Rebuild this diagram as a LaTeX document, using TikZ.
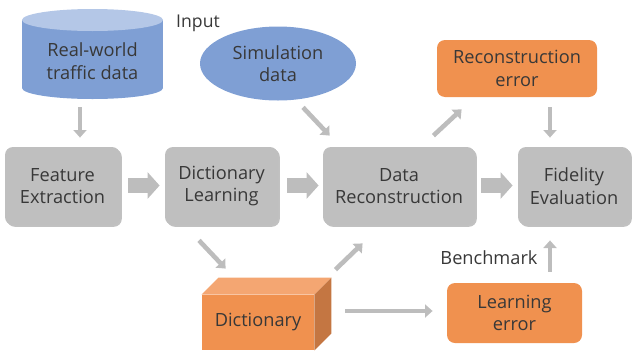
\documentclass[tikz,border=0pt]{standalone}
\usepackage{fontspec}
\setmainfont{Open Sans}
\usetikzlibrary{arrows.meta,shapes.geometric,shadows}
\definecolor{gbox}{HTML}{BFBFBF}
\definecolor{garrow}{HTML}{BDBDBD}
\definecolor{orng}{HTML}{F0914F}
\definecolor{orngtop}{HTML}{F4A672}
\definecolor{orngside}{HTML}{C47642}
\definecolor{blu}{HTML}{7F9FD4}
\definecolor{blutop}{HTML}{B4C7E7}
\definecolor{txt}{HTML}{383838}
\def\PX{0.5pt}
\tikzset{
  proc/.style={fill=gbox, rounded corners=4pt, inner sep=0pt, align=center,
    drop shadow={shadow xshift=0.9pt, shadow yshift=-0.9pt, opacity=0.35, fill=black!70}},
  obox/.style={fill=orng, rounded corners=4pt, inner sep=0pt, align=center},
  tarrow/.style={draw=garrow, line width=2.3pt, -{Triangle[length=3.8pt,width=6.5pt]}},
  barrow/.style={draw=garrow, line width=7.5pt, -{Triangle[length=6pt,width=13pt]}},
  lbl/.style={inner sep=0pt, align=center}
}
\begin{document}
\begin{tikzpicture}[x=0.5pt,y=-0.5pt, font=\fontsize{9.1}{11.2}\selectfont, text=txt]
\useasboundingbox (0,0) rectangle (632,354);
% cylinder
\fill[blu] (22,20) rectangle (163,88);
\fill[blu] (92.5,88) ellipse [x radius=70.5, y radius=11];
\fill[blutop] (92.5,20) ellipse [x radius=70.5, y radius=11];
\node[inner sep=0pt, minimum width=141*\PX, minimum height=90*\PX] (real) at (92.5,54) {};
\node[lbl] (realtxt) at (92.5,61) {Real-world\\traffic data};
\node[lbl, font=\fontsize{8.8}{10}\selectfont] (input) at (198,23) {Input};
% ellipse
\node[ellipse, fill=blu, minimum width=156*\PX, minimum height=74*\PX, inner sep=0pt, align=center] (sim) at (278,63.5) {Simulation\\data};
% orange boxes
\node[obox, minimum width=160*\PX, minimum height=57*\PX] (recerr) at (517,68.5) {Reconstruction\\error};
\node[obox, minimum width=135*\PX, minimum height=60*\PX] (lerr) at (514.5,313) {Learning\\error};
% grey process boxes
\node[proc, minimum width=115*\PX, minimum height=78*\PX] (feat) at (62.5,186) {Feature\\Extraction};
\node[proc, minimum width=113*\PX, minimum height=78*\PX] (dl) at (221.5,186) {Dictionary\\Learning};
\node[proc, minimum width=152*\PX, minimum height=78*\PX] (dr) at (399,186) {Data\\Reconstruction};
\node[proc, minimum width=112*\PX, minimum height=78*\PX] (fe) at (574,186) {Fidelity\\Evaluation};
% dictionary cuboid
\node[fill=orng, inner sep=0pt, minimum width=112*\PX, minimum height=55*\PX] (dict) at (258,322.5) {Dictionary};
\fill[orngtop] (dict.north west) -- ([shift={(17,-17)}]dict.north west) -- ([shift={(17,-17)}]dict.north east) -- (dict.north east) -- cycle;
\fill[orngside] (dict.north east) -- ([shift={(17,-17)}]dict.north east) -- ([shift={(17,-17)}]dict.south east) -- (dict.south east) -- cycle;
\node[lbl] (bench) at (489,258) {Benchmark};
% thin arrows
\draw[tarrow] ([shift={(-12.5,8)}]real.south) -- ([shift={(17.5,-9)}]feat.north);
\draw[tarrow] ([shift={(25,6.5)}]sim.south) -- ([shift={(7,-11)}]dr.north west);
\draw[tarrow] ([shift={(-42,-11)}]dr.north east) -- ([shift={(25,12)}]recerr.south west);
\draw[tarrow] ([shift={(33,10)}]recerr.south) -- ([shift={(-24,-9)}]fe.north);
\draw[tarrow] ([shift={(-22.5,15)}]dl.south) -- ([shift={(24,-26)}]dict.north west);
\draw[tarrow] ([shift={(21,-25)}]dict.north east) -- ([shift={(40,18)}]dr.south west);
\draw[tarrow] ([shift={(31,-11.5)}]dict.east) -- ([shift={(-14,-2)}]lerr.west);
\draw[tarrow] ([shift={(35.5,-11)}]lerr.north) -- ([shift={(-24,15)}]fe.south);
% block arrows
\draw[barrow] ([shift={(8,-0.5)}]feat.east) -- ([shift={(-5,-0.5)}]dl.west);
\draw[barrow] ([shift={(9,-0.5)}]dl.east) -- ([shift={(-4,-0.5)}]dr.west);
\draw[barrow] ([shift={(6,-0.5)}]dr.east) -- ([shift={(-5,-0.5)}]fe.west);
\end{tikzpicture}
\end{document}
